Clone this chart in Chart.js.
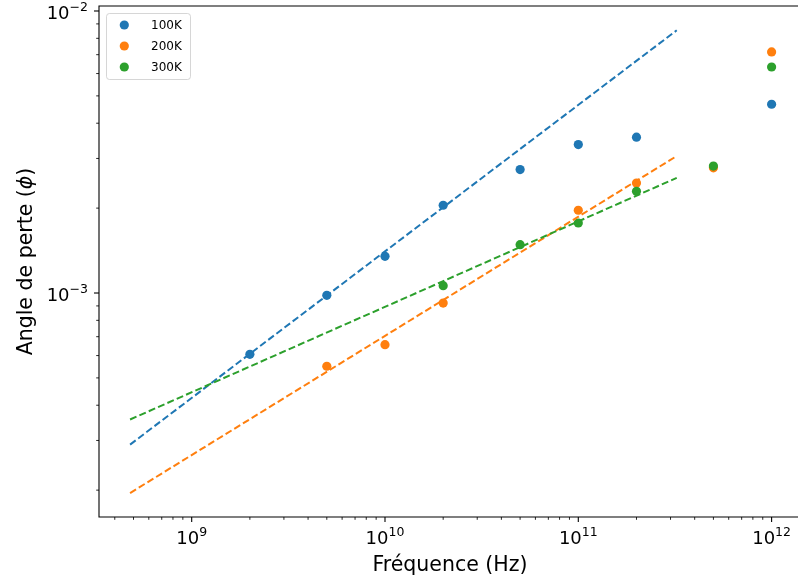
<!DOCTYPE html>
<html><head><meta charset="utf-8">
<script src="https://cdn.jsdelivr.net/npm/chart.js@4.4.0/dist/chart.umd.min.js"></script>
<style>
html,body{margin:0;padding:0;overflow:hidden;background:#fff;width:798px;height:582px}
canvas{display:block}
</style></head>
<body><canvas id="c" width="798" height="582" style="width:798px;height:582px"></canvas>
<script>
// ---- data ----
const frequencies = [2e9, 5e9, 1e10, 2e10, 5e10, 1e11, 2e11, 5e11, 1e12];
const loss100K = [6.06e-4, 9.81e-4, 1.349e-3, 2.047e-3, 2.74e-3, 3.36e-3, 3.57e-3, null, 4.67e-3];
const loss200K = [null, 5.50e-4, 6.56e-4, 9.21e-4, null, 1.965e-3, 2.455e-3, 2.78e-3, 7.16e-3];
const loss300K = [null, null, null, 1.062e-3, 1.484e-3, 1.771e-3, 2.294e-3, 2.82e-3, 6.33e-3];

const fitFreq = [4.8e8, 3.23e11];
const fit100K = [2.90e-4, 8.54e-3];
const fit200K = [1.953e-4, 3.06e-3];
const fit300K = [3.56e-4, 2.56e-3];

const seriesLabels = ['100K', '200K', '300K'];
const seriesColors = ['#1f77b4', '#ff7f0e', '#2ca02c'];

const xMajorTicks = [1e9, 1e10, 1e11, 1e12];
const xTickExponents = ['9', '10', '11', '12'];
const yMajorTicks = [1e-3, 1e-2];
const yTickExponents = ['\u22123', '\u22122'];
const tickBase = '10';

const xTitle = 'Fréquence (Hz)';
const yTitleParts = ['Angle de perte (', '\u03d5', ')'];

// visible range (the right spine lies just outside the picture)
const xLimits = [3.315e8, 1.3695e12];
const yLimits = [1.606e-4, 1.0416e-2];

// ---- helpers ----
function pts(xs, ys) {
  const out = [];
  xs.forEach((x, i) => { if (ys[i] !== null) out.push({x: x, y: ys[i]}); });
  return out;
}
function minorTicks(lo, hi) {
  const res = [];
  for (let e = Math.floor(Math.log10(lo)); e <= Math.ceil(Math.log10(hi)); e++) {
    for (let m = 2; m <= 9; m++) {
      const v = m * Math.pow(10, e);
      if (v >= lo && v <= hi) res.push(v);
    }
  }
  return res;
}
const FONT = '"DejaVu Sans", sans-serif';

function drawPow(ctx, exp, x, y, align) {
  ctx.font = '18px ' + FONT;
  const wb = ctx.measureText(tickBase).width;
  ctx.font = '12.5px ' + FONT;
  const we = ctx.measureText(exp).width;
  const left = align === 'center' ? x - (wb + we) / 2 : x - wb - we;
  ctx.textAlign = 'left';
  ctx.textBaseline = 'alphabetic';
  ctx.fillStyle = '#000';
  ctx.font = '18px ' + FONT;
  ctx.fillText(tickBase, left, y);
  ctx.font = '12.5px ' + FONT;
  ctx.fillText(exp, left + wb, y - 8);
}

const mplPlugin = {
  id: 'mpl',
  afterDraw(chart) {
    const ctx = chart.ctx;
    const a = chart.chartArea;
    const xs = chart.scales.x, ys = chart.scales.y;
    ctx.save();
    // spines (left, bottom, top; right spine is outside the picture)
    ctx.strokeStyle = '#000';
    ctx.lineWidth = 1.1;
    ctx.beginPath();
    ctx.moveTo(a.right + 2, a.top);
    ctx.lineTo(a.left, a.top);
    ctx.lineTo(a.left, a.bottom);
    ctx.lineTo(a.right + 2, a.bottom);
    ctx.stroke();
    // x ticks
    ctx.lineWidth = 1.1;
    xMajorTicks.forEach(v => {
      const px = xs.getPixelForValue(v);
      ctx.beginPath(); ctx.moveTo(px, a.bottom); ctx.lineTo(px, a.bottom + 5); ctx.stroke();
    });
    ctx.lineWidth = 0.85;
    minorTicks(xLimits[0], xLimits[1]).forEach(v => {
      const px = xs.getPixelForValue(v);
      ctx.beginPath(); ctx.moveTo(px, a.bottom); ctx.lineTo(px, a.bottom + 2.8); ctx.stroke();
    });
    // y ticks
    ctx.lineWidth = 1.1;
    yMajorTicks.forEach(v => {
      const py = ys.getPixelForValue(v);
      ctx.beginPath(); ctx.moveTo(a.left, py); ctx.lineTo(a.left - 5, py); ctx.stroke();
    });
    ctx.lineWidth = 0.85;
    minorTicks(yLimits[0], yLimits[1]).forEach(v => {
      const py = ys.getPixelForValue(v);
      ctx.beginPath(); ctx.moveTo(a.left, py); ctx.lineTo(a.left - 2.8, py); ctx.stroke();
    });
    // tick labels
    xMajorTicks.forEach((v, i) => drawPow(ctx, xTickExponents[i], xs.getPixelForValue(v), a.bottom + 27, 'center'));
    yMajorTicks.forEach((v, i) => drawPow(ctx, yTickExponents[i], a.left - 11, ys.getPixelForValue(v) + 8, 'right'));
    // axis titles
    ctx.fillStyle = '#000';
    ctx.font = '20.5px ' + FONT;
    ctx.textAlign = 'center';
    ctx.textBaseline = 'alphabetic';
    ctx.fillText(xTitle, 450, 571);
    ctx.save();
    ctx.translate(32, (a.top + a.bottom) / 2);
    ctx.rotate(-Math.PI / 2);
    const fonts = ['20.5px ' + FONT, 'italic 20.5px ' + FONT, '20.5px ' + FONT];
    const widths = yTitleParts.map((t, i) => { ctx.font = fonts[i]; return ctx.measureText(t).width; });
    let cx = -widths.reduce((s, w) => s + w, 0) / 2;
    ctx.textAlign = 'left';
    yTitleParts.forEach((t, i) => { ctx.font = fonts[i]; ctx.fillText(t, cx, 0); cx += widths[i]; });
    ctx.restore();
    // legend
    const lx = 106.5, ly = 13.5, lw = 84, lh = 66;
    ctx.beginPath();
    ctx.roundRect(lx, ly, lw, lh, 3);
    ctx.fillStyle = 'rgba(255,255,255,0.8)';
    ctx.fill();
    ctx.strokeStyle = 'rgba(204,204,204,0.8)';
    ctx.lineWidth = 1;
    ctx.stroke();
    ctx.font = '12px ' + FONT;
    ctx.textBaseline = 'middle';
    ctx.textAlign = 'left';
    seriesLabels.forEach((lab, i) => {
      const y = 25 + i * 21;
      ctx.beginPath();
      ctx.arc(124.3, y, 4.6, 0, Math.PI * 2);
      ctx.fillStyle = seriesColors[i];
      ctx.fill();
      ctx.fillStyle = '#000';
      ctx.fillText(lab, 151, y + 0.5);
    });
    ctx.restore();
  }
};

const scatterSets = [loss100K, loss200K, loss300K].map((ys, i) => ({
  label: seriesLabels[i],
  data: pts(frequencies, ys),
  showLine: false,
  pointRadius: 4.6,
  pointHoverRadius: 4.6,
  pointBorderWidth: 0,
  backgroundColor: seriesColors[i],
  borderColor: seriesColors[i],
  order: 3 - i
}));
const fitSets = [fit100K, fit200K, fit300K].map((ys, i) => ({
  label: 'fit ' + seriesLabels[i],
  data: pts(fitFreq, ys),
  showLine: true,
  pointRadius: 0,
  borderColor: seriesColors[i],
  backgroundColor: seriesColors[i],
  borderWidth: 2,
  borderDash: [7, 3.2],
  fill: false,
  tension: 0,
  order: -1 - i
}));

new Chart(document.getElementById('c'), {
  type: 'scatter',
  data: { datasets: scatterSets.concat(fitSets) },
  options: {
    responsive: false,
    animation: false,
    devicePixelRatio: 1,
    layout: { autoPadding: false, padding: { left: 0, top: 6, right: 0, bottom: 0 } },
    plugins: { legend: { display: false }, tooltip: { enabled: false } },
    events: [],
    scales: {
      x: {
        type: 'logarithmic', position: 'bottom',
        min: xLimits[0], max: xLimits[1],
        grid: { display: false }, border: { display: false },
        ticks: { display: false },
        afterFit: s => { s.height = 65; }
      },
      y: {
        type: 'logarithmic', position: 'left',
        min: yLimits[0], max: yLimits[1],
        grid: { display: false }, border: { display: false },
        ticks: { display: false },
        afterFit: s => { s.width = 99; }
      }
    }
  },
  plugins: [mplPlugin]
});
</script></body></html>
